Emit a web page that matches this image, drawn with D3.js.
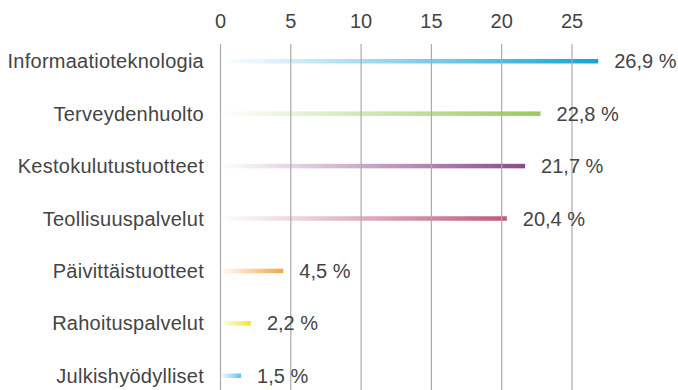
<!DOCTYPE html>
<html>
<head>
<meta charset="utf-8">
<script src="https://cdn.jsdelivr.net/npm/d3@7"></script>
<style>
  html, body { margin: 0; padding: 0; background: #fff; }
  svg { display: block; }
  text { font-family: "Liberation Sans", Arial, Helvetica, sans-serif; fill: #444; }
</style>
</head>
<body>
<svg id="chart" width="678" height="390"></svg>
<script>
// Sector weights, percent
const categories = ["Informaatioteknologia", "Terveydenhuolto", "Kestokulutustuotteet", "Teollisuuspalvelut", "Päivittäistuotteet", "Rahoituspalvelut", "Julkishyödylliset"];
const values = [26.9, 22.8, 21.7, 20.4, 4.5, 2.2, 1.5];
const colors = ["#12a4d8", "#98cb59", "#8c4a88", "#be5a80", "#f7a444", "#f8df36", "#5ec3e8"];
const tickValues = [0, 5, 10, 15, 20, 25];

const svg = d3.select("#chart");
const W = 678, H = 390;
const margin = { top: 44, right: 80, bottom: 0, left: 220 };
const fontSize = "20px";

const x = d3.scaleLinear().domain([0, 25]).range([margin.left, 571.5]);
const y = d3.scaleBand().domain(categories).range([35, 402]).paddingInner(0).paddingOuter(0);

const defs = svg.append("defs");
categories.forEach((c, i) => {
  const g = defs.append("linearGradient")
    .attr("id", "grad" + i)
    .attr("x1", "0%").attr("x2", "100%").attr("y1", "0%").attr("y2", "0%");
  g.append("stop").attr("offset", "0%").attr("stop-color", colors[i]).attr("stop-opacity", 0);
  g.append("stop").attr("offset", "100%").attr("stop-color", colors[i]).attr("stop-opacity", 1);
});

// Bars: thin strokes fading in from the axis
const barH = 4.5;
svg.append("g").selectAll("rect")
  .data(categories)
  .join("rect")
  .attr("x", x(0))
  .attr("y", (d) => y(d) + y.bandwidth() / 2 - barH / 2)
  .attr("width", (d, i) => x(values[i]) - x(0))
  .attr("height", barH)
  .attr("fill", (d, i) => `url(#grad${i})`);

// Top axis with full-height grid lines
const axis = d3.axisTop(x).tickValues(tickValues).tickSize(-(H - margin.top)).tickPadding(0).tickFormat(d3.format("d"));
const ax = svg.append("g")
  .attr("transform", `translate(0,${margin.top})`)
  .call(axis);
ax.select(".domain").remove();
ax.selectAll(".tick line").attr("stroke", "#ababab").attr("stroke-width", 1.2);
ax.selectAll(".tick text")
  .attr("y", -23)
  .attr("dy", "0.35em")
  .style("font-size", fontSize)
  .attr("fill", "#444");

// Category labels
svg.append("g").selectAll("text")
  .data(categories)
  .join("text")
  .attr("x", 204)
  .attr("y", (d) => y(d) + y.bandwidth() / 2)
  .attr("dy", "0.35em")
  .attr("text-anchor", "end")
  .style("font-size", fontSize)
  .style("letter-spacing", "0.25px")
  .text((d) => d);

// Value labels
svg.append("g").selectAll("text")
  .data(categories)
  .join("text")
  .attr("x", (d, i) => x(values[i]) + 16)
  .attr("y", (d) => y(d) + y.bandwidth() / 2)
  .attr("dy", "0.35em")
  .style("font-size", fontSize)
  .text((d, i) => d3.format(".1f")(values[i]).replace(".", ",") + " %");
</script>
</body>
</html>
